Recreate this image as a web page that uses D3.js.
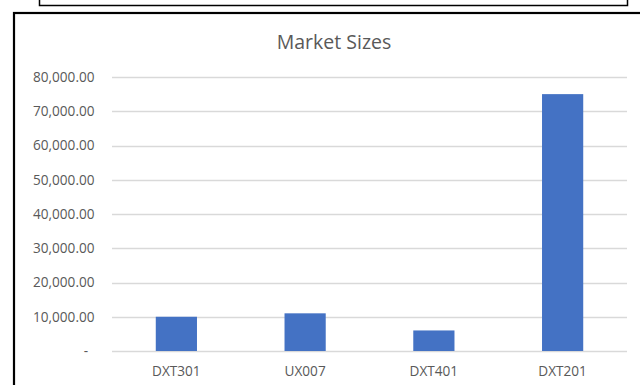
<!DOCTYPE html>
<html>
<head>
<meta charset="utf-8">
<script src="https://cdn.jsdelivr.net/npm/d3@7"></script>
<style>
  html, body { margin: 0; padding: 0; background: #fff; }
  svg { display: block; font-family: "Open Sans", sans-serif; }
</style>
</head>
<body>
<div id="chart"></div>
<script>
(function () {
    // Chart data
    const categories = ["DXT301", "UX007", "DXT401", "DXT201"];
    const marketSizes = [10000, 11000, 6000, 75000];
    const yTicks = [0, 10000, 20000, 30000, 40000, 50000, 60000, 70000, 80000];

    const W = 640, H = 385;
    const plot = { left: 112, right: 627, top: 77, bottom: 351 };

    const svg = d3.select("#chart")
      .append("svg")
        .attr("width", W)
        .attr("height", H);

    // Box above the chart (cropped)
    svg.append("rect")
      .attr("x", 39.5).attr("y", -20)
      .attr("width", 588).attr("height", 25.5)
      .attr("fill", "none")
      .attr("stroke", "#000")
      .attr("stroke-width", 1.5);

    // Chart frame
    svg.append("rect")
      .attr("x", 14).attr("y", 13)
      .attr("width", 700).attr("height", 500)
      .attr("fill", "#fff")
      .attr("stroke", "#000")
      .attr("stroke-width", 2.2);

    // Scales
    const x = d3.scaleBand()
      .domain(categories)
      .range([plot.left, plot.right])
      .paddingInner(0.68)
      .paddingOuter(0.34);

    const y = d3.scaleLinear()
      .domain([0, 80000])
      .range([plot.bottom, plot.top]);

    // Gridlines
    svg.append("g")
      .selectAll("line")
      .data(yTicks)
      .enter()
      .append("line")
        .attr("x1", plot.left)
        .attr("x2", plot.right)
        .attr("y1", d => Math.round(y(d)) + 0.5)
        .attr("y2", d => Math.round(y(d)) + 0.5)
        .attr("stroke", "#d9d9d9")
        .attr("stroke-width", 1.3);

    // Y axis labels
    const fmt = d3.format(",.2f");
    svg.append("g")
      .selectAll("text")
      .data(yTicks)
      .enter()
      .append("text")
        .attr("x", d => d === 0 ? 88 : 94.5)
        .attr("y", d => y(d))
        .attr("dy", "0.36em")
        .attr("text-anchor", "end")
        .style("font-size", "13.6px")
        .style("fill", "#595959")
        .text(d => d === 0 ? "-" : fmt(d));

    // Bars
    svg.append("g")
      .selectAll("rect")
      .data(marketSizes)
      .enter()
      .append("rect")
        .attr("x", (d, i) => x(categories[i]))
        .attr("y", d => y(d))
        .attr("width", x.bandwidth())
        .attr("height", d => y(0) - y(d))
        .attr("fill", "#4472c4");

    // X axis labels
    svg.append("g")
      .selectAll("text")
      .data(categories)
      .enter()
      .append("text")
        .attr("x", d => x(d) + x.bandwidth() / 2)
        .attr("y", 376)
        .attr("text-anchor", "middle")
        .style("font-size", "13.6px")
        .style("fill", "#595959")
        .text(d => d);

    // Title
    svg.append("text")
      .attr("x", 334)
      .attr("y", 49)
      .attr("text-anchor", "middle")
      .style("font-size", "19.5px")
      .style("fill", "#595959")
      .text("Market Sizes");
})();
</script>
</body>
</html>
